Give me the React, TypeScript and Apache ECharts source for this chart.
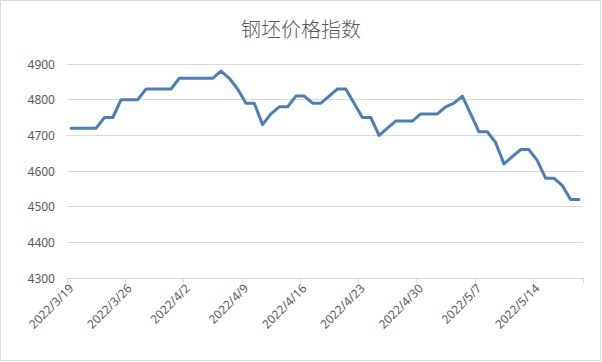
import React, { useEffect, useRef } from "react";
import * as echarts from "echarts";

const titleText = "钢坯价格指数";

const dates = [
  "2022/3/19", "2022/3/20", "2022/3/21", "2022/3/22", "2022/3/23", "2022/3/24", "2022/3/25",
  "2022/3/26", "2022/3/27", "2022/3/28", "2022/3/29", "2022/3/30", "2022/3/31", "2022/4/1",
  "2022/4/2", "2022/4/3", "2022/4/4", "2022/4/5", "2022/4/6", "2022/4/7", "2022/4/8",
  "2022/4/9", "2022/4/10", "2022/4/11", "2022/4/12", "2022/4/13", "2022/4/14", "2022/4/15",
  "2022/4/16", "2022/4/17", "2022/4/18", "2022/4/19", "2022/4/20", "2022/4/21", "2022/4/22",
  "2022/4/23", "2022/4/24", "2022/4/25", "2022/4/26", "2022/4/27", "2022/4/28", "2022/4/29",
  "2022/4/30", "2022/5/1", "2022/5/2", "2022/5/3", "2022/5/4", "2022/5/5", "2022/5/6",
  "2022/5/7", "2022/5/8", "2022/5/9", "2022/5/10", "2022/5/11", "2022/5/12", "2022/5/13",
  "2022/5/14", "2022/5/15", "2022/5/16", "2022/5/17", "2022/5/18", "2022/5/19",
];

const values = [
  4720, 4720, 4720, 4720, 4750, 4750, 4800,
  4800, 4800, 4830, 4830, 4830, 4830, 4860,
  4860, 4860, 4860, 4860, 4880, 4860, 4830,
  4790, 4790, 4730, 4760, 4780, 4780, 4810,
  4810, 4790, 4790, 4810, 4830, 4830, 4790,
  4750, 4750, 4700, 4720, 4740, 4740, 4740,
  4760, 4760, 4760, 4780, 4790, 4810, 4760,
  4710, 4710, 4680, 4620, 4640, 4660, 4660,
  4630, 4580, 4580, 4560, 4520, 4520,
];

const yMin = 4300;
const yMax = 4900;
const yStep = 100;

export default function App() {
  const ref = useRef<HTMLDivElement>(null);
  useEffect(() => {
    if (!ref.current) return;
    const chart = echarts.init(ref.current, undefined, { renderer: "svg" });
    const font = "'Noto Sans', 'Noto Sans CJK SC', sans-serif";
    chart.setOption({
      animation: false,
      backgroundColor: "#ffffff",
      title: {
        text: titleText,
        left: "center",
        top: 13,
        textStyle: {
          fontSize: 20,
          fontWeight: 300,
          color: "#595959",
          fontFamily: "'Noto Sans CJK SC', sans-serif",
        },
      },
      graphic: [
        {
          type: "rect",
          shape: { x: 0.5, y: 0.5, width: 600, height: 360 },
          style: { fill: "none", stroke: "#d9d9d9", lineWidth: 1 },
          silent: true,
        },
      ],
      grid: { left: 67, right: 19, top: 64, bottom: 84, containLabel: false },
      xAxis: {
        type: "category",
        data: dates,
        boundaryGap: true,
        axisLine: { lineStyle: { color: "#d9d9d9", width: 1 } },
        axisTick: { show: true, interval: 6, length: 5, lineStyle: { color: "#d9d9d9" } },
        axisLabel: {
          interval: 6,
          rotate: 45,
          margin: 8,
          fontSize: 12,
          color: "#595959",
          fontFamily: font,
        },
        splitLine: { show: false },
      },
      yAxis: {
        type: "value",
        min: yMin,
        max: yMax,
        interval: yStep,
        axisLine: { show: false },
        axisTick: { show: false },
        axisLabel: {
          fontSize: 12,
          color: "#595959",
          margin: 12,
          fontFamily: font,
          formatter: (v: number) => String(v),
        },
        splitLine: { lineStyle: { color: "#d9d9d9", width: 1 } },
      },
      series: [
        {
          type: "line",
          data: values,
          showSymbol: false,
          symbol: "none",
          lineStyle: { color: "#4a7ebb", width: 3, cap: "round", join: "round" },
          itemStyle: { color: "#4a7ebb" },
        },
      ],
    });
    return () => chart.dispose();
  }, []);
  return (
    <div
      ref={ref}
      style={{ position: "fixed", left: 0, top: 0, width: 602, height: 362 }}
    />
  );
}
